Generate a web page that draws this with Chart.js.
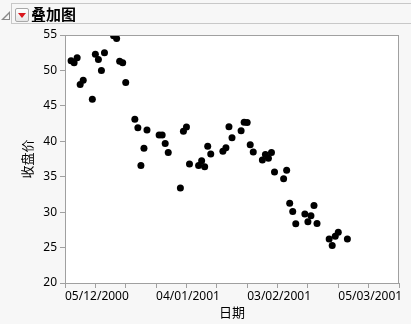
<!DOCTYPE html>
<html>
<head>
<meta charset="utf-8">
<script src="https://cdn.jsdelivr.net/npm/chart.js@4"></script>
<style>
    html, body { margin: 0; padding: 0; background: #f7f7f7; }
    body { width: 411px; height: 324px; position: relative; overflow: hidden;
           font-family: "Noto Sans", "Noto Sans CJK SC", sans-serif; }
    #chartWrap { position: absolute; left: 0; top: 0; width: 411px; height: 324px; }
    .header { position: absolute; left: 11px; top: 3px; width: 402px; height: 21px;
              border: 1px solid #c8c8c8; box-sizing: border-box; }
    .tri { position: absolute; left: 1px; top: 11px; width: 0; height: 0;
           border-left: 9px solid transparent; border-bottom: 9px solid #8a8a8a; }
    .tri::after { content: ''; position: absolute; left: -6px; top: 3px;
           border-left: 5px solid transparent; border-bottom: 5px solid #f7f7f7; }
    .btn { position: absolute; left: 15px; top: 8px; width: 14px; height: 14px;
           box-sizing: border-box; border: 1px solid #a8a8a8; border-radius: 2px;
           background: linear-gradient(#ffffff, #e6e6e6); }
    .btn::after { content: ''; position: absolute; left: 2px; top: 4px;
           border-left: 4px solid transparent; border-right: 4px solid transparent;
           border-top: 5px solid #d9161c; }
    .title { position: absolute; left: 31px; top: 4px; font-size: 15px; font-weight: bold;
             line-height: 20px; color: #000; font-family: "Noto Sans CJK SC", sans-serif; }
</style>
</head>
<body>
<div id="chartWrap"><canvas id="chart" width="411" height="324"></canvas></div>
<div class="header"></div>
<div class="tri"></div>
<div class="btn"></div>
<div class="title">叠加图</div>
<script>
// dates as days after 05/12/2000
const startDate = new Date(2000, 11, 5);
const days = [
    2, 3, 4, 5, 6, 9, 10, 11, 12, 13, 16, 17, 18, 19, 20,
    23, 24, 25, 26, 27, 31, 32, 33, 34, 38, 39, 40, 41, 44, 45, 46, 47, 48,
    52, 53, 54, 55, 58, 59, 60, 61, 62, 65, 66, 67, 68, 69,
    72, 73, 74, 75, 76, 79, 80, 81, 82, 83, 87, 88, 89, 90, 93
];
const closePrice = [
    51.35, 51.1, 51.8, 48.0, 48.6, 45.95, 52.3, 51.55, 50.0, 52.5, 54.9, 54.5, 51.3, 51.1, 48.3,
    43.1, 41.9, 36.6, 39.0, 41.6, 40.9, 40.9, 39.7, 38.4, 33.4, 41.4, 42.0, 36.8, 36.6, 37.25, 36.4, 39.3, 38.2,
    38.6, 39.1, 42.05, 40.5, 41.5, 42.7, 42.65, 39.5, 38.5, 37.35, 38.15, 37.6, 38.4, 35.65,
    34.7, 35.9, 31.25, 30.1, 28.35, 29.75, 28.65, 29.5, 30.95, 28.4, 26.2, 25.3, 26.6, 27.15, 26.2
];
const yTicks = [20, 25, 30, 35, 40, 45, 50, 55];
const xLabelEvery = 30;

const points = days.map((d, i) => ({ x: d, y: closePrice[i] }));

function fmtDate(d) {
    const dt = new Date(startDate.getTime() + d * 86400000);
    const dd = String(dt.getDate()).padStart(2, '0');
    const mm = String(dt.getMonth() + 1).padStart(2, '0');
    return `${dd}/${mm}/${dt.getFullYear()}`;
}

// frame round the plot area
const frame = {
    id: 'frame',
    beforeDraw(chart) {
        const { ctx, chartArea: a } = chart;
        ctx.save();
        ctx.fillStyle = '#ffffff';
        ctx.fillRect(a.left, a.top, a.right - a.left, a.bottom - a.top);
        ctx.restore();
    },
    afterDraw(chart) {
        const { ctx, chartArea: a } = chart;
        ctx.save();
        ctx.strokeStyle = '#a0a0a0';
        ctx.lineWidth = 1;
        ctx.strokeRect(a.left + 0.5, a.top + 0.5, a.right - a.left - 1, a.bottom - a.top);
        ctx.restore();
    }
};

const tickFont = { family: '"Noto Sans", sans-serif', size: 12 };
const titleFont = { family: '"Noto Sans CJK SC", sans-serif', size: 13 };

new Chart(document.getElementById('chart'), {
    type: 'scatter',
    data: {
        datasets: [{
            label: '收盘价',
            data: points,
            backgroundColor: '#000000',
            borderColor: '#000000',
            borderWidth: 0,
            pointRadius: 3.5,
            pointHoverRadius: 3.5
        }]
    },
    options: {
        responsive: false,
        animation: false,
        layout: { padding: { top: 35, right: 12, left: 0, bottom: 0 } },
        plugins: { legend: { display: false }, tooltip: { enabled: false } },
        scales: {
            x: {
                type: 'linear',
                min: 0,
                max: 110,
                afterFit: scale => { scale.height = 41; },
                afterBuildTicks: scale => {
                    scale.ticks = [];
                    for (let v = 0; v <= 110; v += 10) scale.ticks.push({ value: v });
                },
                ticks: {
                    autoSkip: false,
                    maxRotation: 0,
                    align: 'start',
                    color: '#000000',
                    font: tickFont,
                    padding: 1,
                    callback: v => (v % xLabelEvery === 0 && v < 110) ? fmtDate(v) : ''
                },
                grid: { drawOnChartArea: false, tickLength: 5, color: '#a0a0a0' },
                border: { color: '#a0a0a0' },
                title: { display: true, text: '日期', color: '#000000', font: titleFont,
                         padding: { top: 0, bottom: 4 } }
            },
            y: {
                min: 20,
                max: 55,
                afterFit: scale => { scale.width = 65; },
                afterBuildTicks: scale => { scale.ticks = yTicks.map(v => ({ value: v })); },
                ticks: { color: '#000000', font: tickFont, padding: 3 },
                grid: { drawOnChartArea: false, tickLength: 5, color: '#a0a0a0' },
                border: { color: '#a0a0a0' },
                title: { display: true, text: '收盘价', color: '#000000', font: titleFont,
                         padding: { top: 19, bottom: 0 } }
            }
        }
    },
    plugins: [frame]
});
</script>
</body>
</html>
